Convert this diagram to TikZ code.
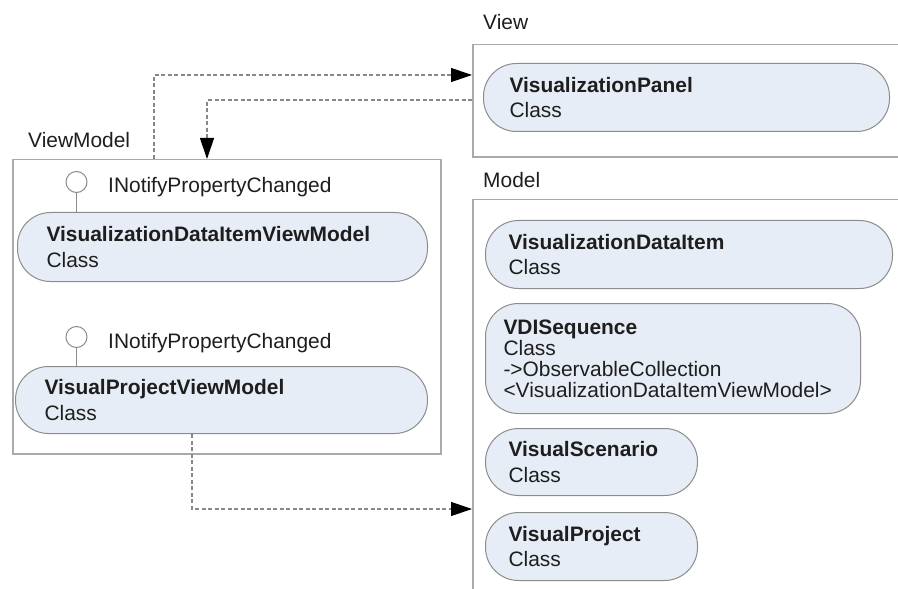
\documentclass[tikz,border=0pt]{standalone}
\usepackage{fontspec}
\setmainfont{Liberation Sans}
\usetikzlibrary{arrows.meta,calc}
\definecolor{pillfill}{RGB}{231,237,246}
\definecolor{pillline}{RGB}{140,140,140}
\definecolor{boxline}{RGB}{170,170,170}
\definecolor{connline}{RGB}{135,135,135}
\definecolor{txt}{RGB}{30,30,30}
\tikzset{
  pkgbox/.style={draw=boxline, line width=1.5bp, fill=white, inner sep=0pt, anchor=north west},
  pkglabel/.style={anchor=base west, inner sep=0pt, text=txt, font=\fontsize{21}{25}\selectfont},
  pill/.style n args={3}{draw=pillline, line width=1bp, fill=pillfill, rounded corners=33bp,
     anchor=north west, minimum height=#2, text width=#1, inner xsep=#3, inner ysep=0pt,
     align=left, text=txt, font=\fontsize{21}{26}\selectfont},
  iface/.style={circle, draw=pillline, line width=1bp, fill=white, minimum size=21bp, inner sep=0pt},
  ifacelabel/.style={anchor=base west, inner sep=0pt, text=txt, font=\fontsize{21}{25}\selectfont},
  stem/.style={draw=pillline, line width=1bp},
  conn/.style={draw=connline, line width=1.2bp, dash pattern=on 4bp off 2.5bp,
     -{Triangle[length=21bp,width=14bp,fill=black,color=black]}}
}
\begin{document}
\begin{tikzpicture}[x=1bp,y=-1bp]
\useasboundingbox (0,0) rectangle (898,589);
\clip (0,0) rectangle (898,589);
\fill[white] (0,0) rectangle (898,589);

% package boxes
\node[pkgbox, minimum width=428bp, minimum height=294bp] (vmbox) at (12,159) {};
\node[pkgbox, minimum width=440bp, minimum height=112bp] (viewbox) at (472,44) {};
\node[pkgbox, minimum width=440bp, minimum height=410bp] (modelbox) at (472,199) {};

\node[pkglabel] (lvm) at (28,148) {ViewModel};
\node[pkglabel] (lview) at (483,30) {View};
\node[pkglabel] (lmodel) at (483,188) {Model};

% View
\node[pill={354bp}{68bp}{26bp}] (vpanel) at (483,63) {\textbf{VisualizationPanel}\\Class};

% ViewModel
\node[pill={352bp}{69bp}{29bp}] (vdivm) at (17,212) {\textbf{VisualizationDataItemViewModel}\\Class};
\node[pill={354bp}{67bp}{29bp}] (vpvm) at (15,366) {\textbf{VisualProjectViewModel}\\Class};

\node[iface] (i1) at (76.5,182) {};
\node[ifacelabel] (i1l) at (108,193) {INotifyPropertyChanged};
\draw[stem] (i1.south) -- (i1.south |- vdivm.north);
\node[iface] (i2) at (76.5,337) {};
\node[ifacelabel] (i2l) at (108,348) {INotifyPropertyChanged};
\draw[stem] (i2.south) -- (i2.south |- vpvm.north);

% Model
\node[pill={361bp}{68bp}{23bp}] (vdi) at (485,220) {\textbf{VisualizationDataItem}\\Class};
\node[pill={339bp}{110bp}{18bp}, font=\fontsize{21}{21}\selectfont] (vdiseq) at (485,303)
  {\textbf{VDISequence}\\Class\\->ObservableCollection\\<VisualizationDataItemViewModel>};
\node[pill={166bp}{67bp}{23bp}] (vscen) at (485,428) {\textbf{VisualScenario}\\Class};
\node[pill={166bp}{68bp}{23bp}] (vproj) at (485,512) {\textbf{VisualProject}\\Class};

% connectors
\coordinate (s1) at (154,159);
\draw[conn] (s1) |- (viewbox.west |- 0,75);
\draw[conn] (viewbox.west |- 0,100) -| (vmbox.north west -| 207,0);
\draw[conn] (vpvm.south -| 192,0) |- (modelbox.west |- 0,509);
\end{tikzpicture}
\end{document}
